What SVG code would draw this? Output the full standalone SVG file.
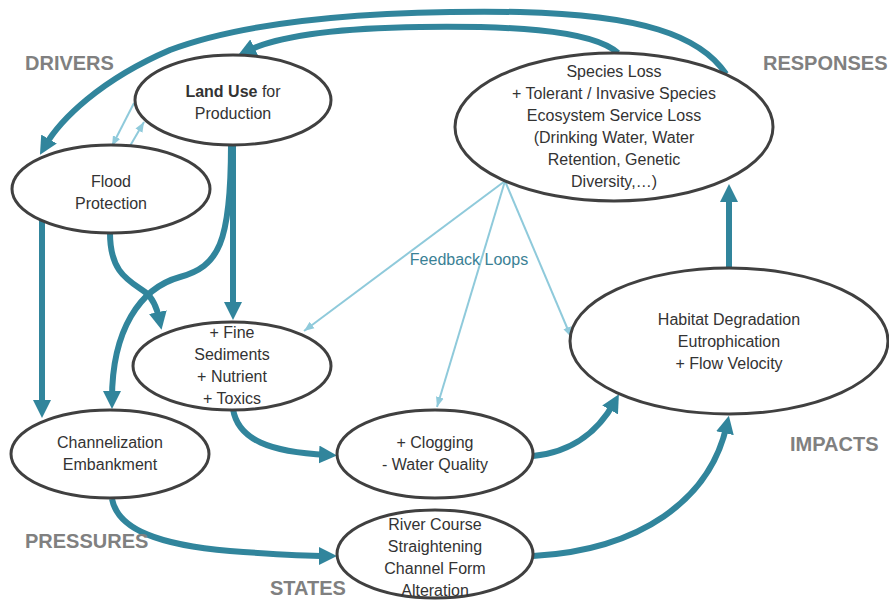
<svg xmlns="http://www.w3.org/2000/svg" width="889" height="600" viewBox="0 0 889 600">
<defs>
<style>
.bg{fill:#ffffff}
.node ellipse{fill:#ffffff;stroke:#404040;stroke-width:3}
.node text{font-family:"Liberation Sans",Arial,sans-serif;font-size:16px;fill:#333333;text-anchor:middle}
.cat{font-family:"Liberation Sans",Arial,sans-serif;font-size:20px;font-weight:bold;fill:#808080}
.thick{fill:none;stroke:#31859C;stroke-width:6;marker-end:url(#ah)}
.thin{fill:none;stroke:#8FCADB;stroke-width:2;marker-end:url(#ahl)}
.fb{font-family:"Liberation Sans",Arial,sans-serif;font-size:16px;fill:#3A8195;text-anchor:middle}
</style>
<marker id="ah" viewBox="0 0 18 18" refX="8" refY="9" markerWidth="18" markerHeight="18" markerUnits="userSpaceOnUse" orient="auto">
<path d="M0,0 L18,9 L0,18 z" fill="#31859C"/>
</marker>
<marker id="ahl" viewBox="0 0 10 10" refX="10" refY="5" markerWidth="10" markerHeight="10" markerUnits="userSpaceOnUse" orient="auto">
<path d="M0,1 L10,5 L0,9 z" fill="#8FCADB"/>
</marker>
</defs>
<rect class="bg" x="0" y="0" width="889" height="600"/>

<g id="connectors">
<path class="thick" d="M618 53 C590 28, 500 26, 420 27 C340 28, 280 35, 247 51"/>
<path class="thick" d="M726 74 C700 35, 640 15, 520 12 C380 10, 250 20, 170 50 C100 80, 60 120, 45 146"/>
<path class="thin" d="M134 103 L112 146"/>
<path class="thin" d="M130 146 L144 122"/>
<path class="thick" d="M233 145 L233 310"/>
<path class="thick" d="M231 145 C231 245, 218 266, 180 277 C140 288, 112 330, 112 399"/>
<path class="thick" d="M110 233 C110 272, 128 280, 145 292 C153 298, 157 308, 159.5 320"/>
<path class="thick" d="M42 220 L42 408"/>
<path class="thick" d="M233 409 C238 440, 270 452, 327 455"/>
<path class="thick" d="M533 456 C575 452, 600 428, 614 403"/>
<path class="thick" d="M112 499 C118 530, 160 545, 230 551 C270 554, 300 556, 327 556"/>
<path class="thick" d="M533 556 C640 550, 710 500, 726.7 425.4"/>
<path class="thick" d="M729 268 L729 194"/>
<path class="thin" d="M505 181 L304 331"/>
<path class="thin" d="M505 181 L437 407"/>
<path class="thin" d="M505 181 L571 337"/>
<text class="fb" x="469" y="265">Feedback Loops</text>
</g>

<g id="landuse" class="node">
<ellipse cx="233" cy="100" rx="98" ry="45"/>
<text x="233" y="97"><tspan font-weight="bold">Land Use</tspan> for</text>
<text x="233" y="119">Production</text>
</g>

<g id="flood" class="node">
<ellipse cx="111" cy="189" rx="99" ry="44"/>
<text x="111" y="187">Flood</text>
<text x="111" y="209">Protection</text>
</g>

<g id="responses" class="node">
<ellipse cx="614" cy="127" rx="159" ry="74"/>
<text x="614" y="77">Species  Loss</text>
<text x="614" y="99">+ Tolerant / Invasive Species</text>
<text x="614" y="121">Ecosystem Service  Loss</text>
<text x="614" y="143">(Drinking  Water, Water</text>
<text x="614" y="165">Retention, Genetic</text>
<text x="614" y="187">Diversity,…)</text>
</g>

<g id="sediments" class="node">
<ellipse cx="232" cy="366" rx="99" ry="44"/>
<text x="232" y="338">+ Fine</text>
<text x="232" y="360">Sediments</text>
<text x="232" y="382">+ Nutrient</text>
<text x="232" y="404">+ Toxics</text>
</g>

<g id="channelization" class="node">
<ellipse cx="110" cy="454" rx="99" ry="44"/>
<text x="110" y="448">Channelization</text>
<text x="110" y="470">Embankment</text>
</g>

<g id="clogging" class="node">
<ellipse cx="435" cy="454" rx="98" ry="44"/>
<text x="435" y="448">+ Clogging</text>
<text x="435" y="470">- Water Quality</text>
</g>

<g id="rivercourse" class="node">
<ellipse cx="435" cy="554" rx="98" ry="44"/>
<text x="435" y="530">River Course</text>
<text x="435" y="552">Straightening</text>
<text x="435" y="574">Channel  Form</text>
<text x="435" y="596">Alteration</text>
</g>

<g id="habitat" class="node">
<ellipse cx="729" cy="341" rx="159" ry="73"/>
<text x="729" y="325">Habitat Degradation</text>
<text x="729" y="347">Eutrophication</text>
<text x="729" y="369">+ Flow Velocity</text>
</g>

<g id="labels">
<text class="cat" x="25" y="70">DRIVERS</text>
<text class="cat" x="763" y="70">RESPONSES</text>
<text class="cat" x="25" y="548">PRESSURES</text>
<text class="cat" x="270" y="595">STATES</text>
<text class="cat" x="790" y="451">IMPACTS</text>
</g>
</svg>
